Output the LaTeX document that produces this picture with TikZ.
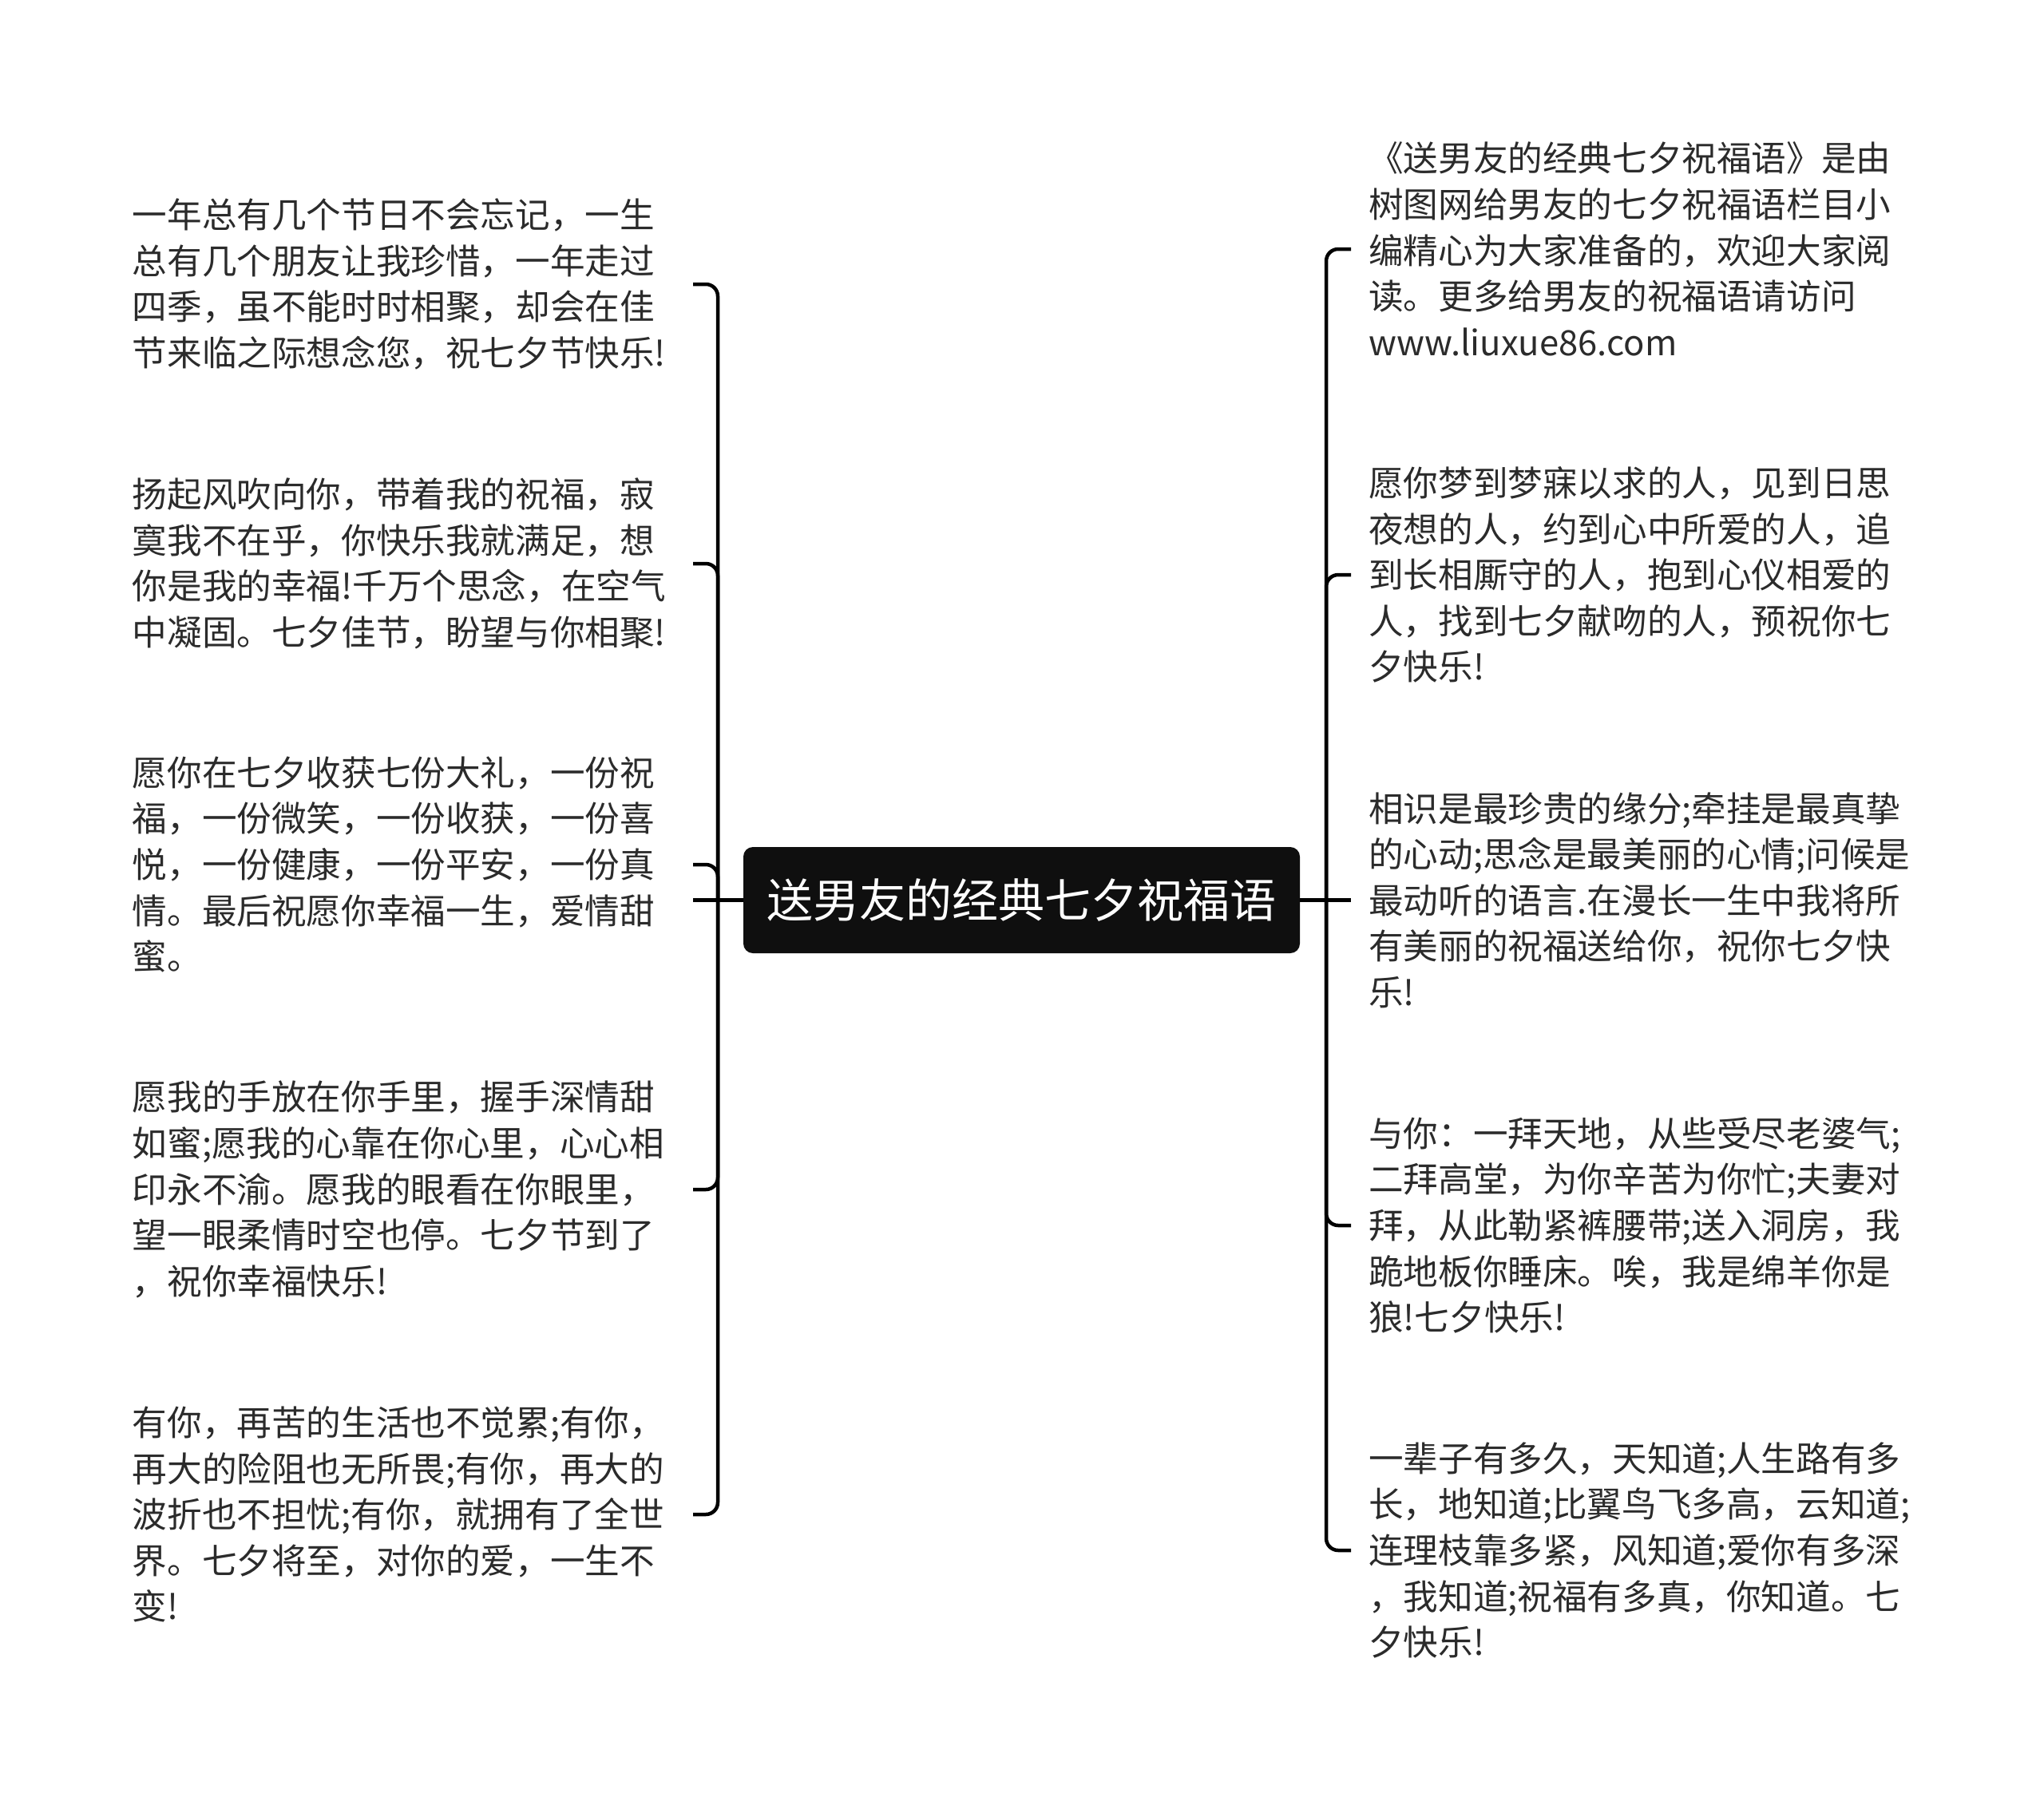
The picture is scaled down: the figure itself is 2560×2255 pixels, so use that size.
\documentclass[tikz,border=0pt]{standalone}
\usepackage{fontspec}
\setmainfont{Noto Sans CJK SC}
\usepackage{tikz}
\usetikzlibrary{positioning}
\definecolor{inkgray}{HTML}{2B2B2B}
\tikzstyle{topic} = [rectangle, rounded corners=12pt, fill=black!94, text=white, minimum width=697pt, minimum height=133pt, inner sep=0pt, font=\fontsize{58}{70}\selectfont]
\tikzstyle{leaf} = [text width=680pt, align=left, inner xsep=22pt, inner ysep=0pt, text=inkgray, font=\fontsize{43.6}{57.6}\selectfont]
\tikzstyle{line} = [draw, line width=4.5pt, rounded corners=15pt]

\begin{document}
\begin{tikzpicture}[x=1pt, y=-1pt]
			\useasboundingbox (0,0) rectangle (2560,2255);
			\node [topic] (root) at (1279.5,1127.5) {送男友的经典七夕祝福语};
			\coordinate (lspine) at (899,1127.5);
			\coordinate (rspine) at (1661,1127.5);
			\coordinate (lstub) at (868,1127.5);

			% left side
			\node [leaf, anchor=east] (l1) at (868,356) {一年总有几个节日不会忘记，一生\\总有几个朋友让我珍惜，一年走过\\四季，虽不能时时相聚，却会在佳\\节来临之际想念您，祝七夕节快乐!};
			\node [leaf, anchor=east] (l2) at (868,706) {扬起风吹向你，带着我的祝福，寂\\寞我不在乎，你快乐我就满足，想\\你是我的幸福!千万个思念，在空气\\中凝固。七夕佳节，盼望与你相聚!};
			\node [leaf, anchor=east] (l3) at (868,1083) {愿你在七夕收获七份大礼，一份祝\\福，一份微笑，一份收获，一份喜\\悦，一份健康，一份平安，一份真\\情。最后祝愿你幸福一生，爱情甜\\蜜。};
			\node [leaf, anchor=east] (l4) at (868,1490) {愿我的手放在你手里，握手深情甜\\如蜜;愿我的心靠在你心里，心心相\\印永不渝。愿我的眼看在你眼里，\\望一眼柔情时空也停。七夕节到了\\，祝你幸福快乐!};
			\node [leaf, anchor=east] (l5) at (868,1897) {有你，再苦的生活也不觉累;有你，\\再大的险阻也无所畏;有你，再大的\\波折也不担忧;有你，就拥有了全世\\界。七夕将至，对你的爱，一生不\\变!};

			% right side
			\node [leaf, anchor=west] (r1) at (1692,312) {《送男友的经典七夕祝福语》是由\\树图网给男友的七夕祝福语栏目小\\编精心为大家准备的，欢迎大家阅\\读。更多给男友的祝福语请访问\\www.liuxue86.com};
			\node [leaf, anchor=west] (r2) at (1692,720) {愿你梦到梦寐以求的人，见到日思\\夜想的人，约到心中所爱的人，追\\到长相厮守的人，抱到心仪相爱的\\人，找到七夕献吻的人，预祝你七\\夕快乐!};
			\node [leaf, anchor=west] (r3) at (1692,1127.5) {相识是最珍贵的缘分;牵挂是最真挚\\的心动;思念是最美丽的心情;问候是\\最动听的语言.在漫长一生中我将所\\有美丽的祝福送给你，祝你七夕快\\乐!};
			\node [leaf, anchor=west] (r4) at (1692,1535) {与你：一拜天地，从些受尽老婆气;\\二拜高堂，为你辛苦为你忙;夫妻对\\拜，从此勒紧裤腰带;送入洞房，我\\跪地板你睡床。唉，我是绵羊你是\\狼!七夕快乐!};
			\node [leaf, anchor=west] (r5) at (1692,1942) {一辈子有多久，天知道;人生路有多\\长，地知道;比翼鸟飞多高，云知道;\\连理枝靠多紧，风知道;爱你有多深\\，我知道;祝福有多真，你知道。七\\夕快乐!};

			\path [line] (root.west) -- (lstub);
			\path [line] (root.east) -- (r3.west);
			\foreach \n in {l1,l2,l3,l4,l5}
				\path [line] (lspine) |- (\n.east);
			\foreach \n in {r1,r2,r4,r5}
				\path [line] (rspine) |- (\n.west);
		\end{tikzpicture}
\end{document}
